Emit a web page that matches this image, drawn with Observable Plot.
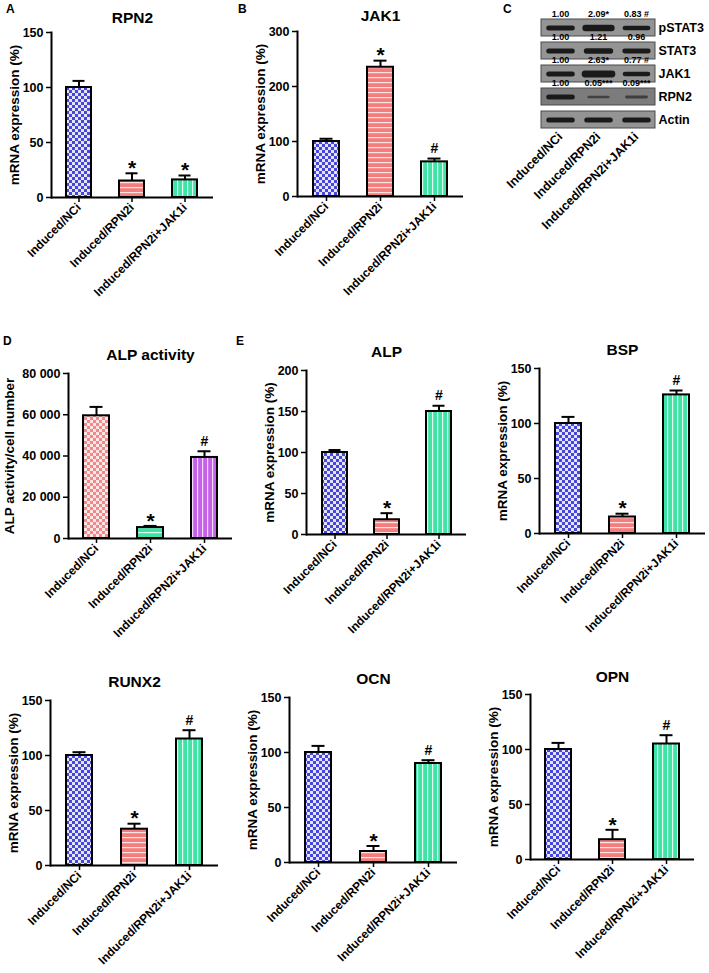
<!DOCTYPE html>
<html>
<head>
<meta charset="utf-8">
<script src="https://cdn.jsdelivr.net/npm/d3@7"></script>
<script src="https://cdn.jsdelivr.net/npm/@observablehq/plot@0.6"></script>
<style>
  html, body { margin: 0; padding: 0; background: #fff; }
  #root { position: relative; width: 709px; height: 973px; overflow: hidden; font-family: "Liberation Sans", Arial, sans-serif; }
  .panel { position: absolute; }
  .panel svg { overflow: visible; }
  .letter { position: absolute; font: bold 12px "Liberation Sans", Arial, sans-serif; color: #000; }
</style>
</head>
<body>
<div id="root">
<svg width="0" height="0" style="position:absolute">
  <defs>
    <pattern id="checkBlue" width="6" height="6" patternUnits="userSpaceOnUse">
      <rect width="6" height="6" fill="#4646dc"/>
      <rect width="3" height="3" fill="#e4e4fb"/>
      <rect x="3" y="3" width="3" height="3" fill="#e4e4fb"/>
    </pattern>
    <pattern id="checkPink" width="6" height="6" patternUnits="userSpaceOnUse">
      <rect width="6" height="6" fill="#f08a8a"/>
      <rect width="3" height="3" fill="#fde6e6"/>
      <rect x="3" y="3" width="3" height="3" fill="#fde6e6"/>
    </pattern>
    <pattern id="hRed" width="6" height="5" patternUnits="userSpaceOnUse">
      <rect width="6" height="5" fill="#f27f7e"/>
      <rect y="2" width="6" height="1.2" fill="#ffe2e2"/>
    </pattern>
    <pattern id="vGreen" width="5" height="6" patternUnits="userSpaceOnUse">
      <rect width="5" height="6" fill="#3fe3a6"/>
      <rect x="2" width="1.2" height="6" fill="#dffbef"/>
    </pattern>
    <pattern id="hGreen" width="6" height="5" patternUnits="userSpaceOnUse">
      <rect width="6" height="5" fill="#3fe3a6"/>
      <rect y="2" width="6" height="1.2" fill="#dffbef"/>
    </pattern>
    <pattern id="vPurple" width="5" height="6" patternUnits="userSpaceOnUse">
      <rect width="5" height="6" fill="#c461e6"/>
      <rect x="2" width="1.2" height="6" fill="#f3dcfb"/>
    </pattern>
  </defs>
</svg>
</div>
<script>
// ---------- data ----------
const categories = ["Induced/NCi", "Induced/RPN2i", "Induced/RPN2i+JAK1i"];

const rpn2Mean = [100, 15, 16];
const rpn2Upper = [106, 22, 20];
const rpn2Mark = ["", "*", "*"];

const jak1Mean = [100, 235, 63];
const jak1Upper = [105, 247, 69];
const jak1Mark = ["", "*", "#"];

const alpActivityMean = [59500, 5300, 39300];
const alpActivityUpper = [63800, 6100, 42300];
const alpActivityMark = ["", "*", "#"];

const alpMean = [100, 18, 150];
const alpUpper = [103, 26, 157];
const alpMark = ["", "*", "#"];

const bspMean = [100, 15, 126];
const bspUpper = [106, 18, 130];
const bspMark = ["", "*", "#"];

const runx2Mean = [100, 33, 115];
const runx2Upper = [103, 38, 123];
const runx2Mark = ["", "*", "#"];

const ocnMean = [100, 10, 90];
const ocnUpper = [106, 15, 93];
const ocnMark = ["", "*", "#"];

const opnMean = [100, 18, 105];
const opnUpper = [106, 27, 113];
const opnMark = ["", "*", "#"];

const ticks150 = [0, 50, 100, 150];
const ticks300 = [0, 100, 200, 300];
const ticks200 = [0, 50, 100, 150, 200];
const ticksActivity = [0, 20000, 40000, 60000, 80000];

// western blot (panel C)
const blotProteins = ["pSTAT3", "STAT3", "JAK1", "RPN2", "Actin"];
const pstat3Ratio = [1.00, 2.09, 0.83];
const pstat3Text = ["1.00", "2.09*", "0.83 #"];
const stat3Ratio = [1.00, 1.21, 0.96];
const stat3Text = ["1.00", "1.21", "0.96"];
const jak1Ratio = [1.00, 2.63, 0.77];
const jak1Text = ["1.00", "2.63*", "0.77 #"];
const rpn2Ratio = [1.00, 0.05, 0.09];
const rpn2Text = ["1.00", "0.05***", "0.09***"];
const actinRatio = [1.00, 1.00, 1.00];
const actinText = ["", "", ""];

// ---------- helpers ----------
const FONT = '"Liberation Sans", Arial, sans-serif';
const root = document.getElementById("root");

function addLetter(txt, x, y) {
  const d = document.createElement("div");
  d.className = "letter";
  d.textContent = txt;
  d.style.left = x + "px";
  d.style.top = y + "px";
  root.appendChild(d);
}

function barPanel(cfg) {
  const data = categories.map((c, i) => ({cat: c, mean: cfg.mean[i], upper: cfg.upper[i], mark: cfg.mark[i], i}));
  const [fx0, fx1, fy0, fy1] = cfg.frame;
  const W = cfg.width, H = cfg.height;
  const marginLeft = fx0 - cfg.left;
  const marginRight = cfg.left + W - fx1;
  const marginTop = fy0 - cfg.top;
  const marginBottom = cfg.top + H - fy1;
  const yMax = cfg.ticks[cfg.ticks.length - 1];
  const chart = Plot.plot({
    width: W, height: H,
    marginLeft, marginRight, marginTop, marginBottom,
    style: {fontFamily: FONT, fontSize: "12px", fontWeight: "bold", color: "#000", background: "transparent", overflow: "visible"},
    x: {type: "band", domain: categories, paddingInner: 0.52, paddingOuter: 0.27, label: null},
    y: {domain: [0, yMax], label: null},
    marks: [
      Plot.ruleX(data, {x: "cat", y1: "mean", y2: "upper", stroke: "#000", strokeWidth: 2}),
      Plot.tickY(data, {x: "cat", y: "upper", stroke: "#000", strokeWidth: 2, insetLeft: 6.5, insetRight: 6.5}),
      Plot.barY(data, {x: "cat", y: "mean", fill: d => `url(#${cfg.fills[d.i]})`, stroke: "#000", strokeWidth: 2}),
      Plot.text(data.filter(d => d.mark === "*"), {x: "cat", y: "upper", text: "mark", dy: -5, fontSize: 21, fontWeight: "bold", fill: "#000"}),
      Plot.text(data.filter(d => d.mark === "#"), {x: "cat", y: "upper", text: "mark", dy: -10, fontSize: 14, fontWeight: "bold", fill: "#000"}),
      Plot.frame({anchor: "left", stroke: "#000", strokeWidth: 2}),
      Plot.ruleY([0], {stroke: "#000", strokeWidth: 2}),
      Plot.axisY({ticks: cfg.ticks, tickFormat: cfg.tickFormat || (d => d), tickSize: 5, tickPadding: 3, strokeWidth: 1.5, fontSize: 12.5, fontWeight: "bold", label: null}),
      Plot.axisX({tickRotate: -45, tickSize: 5, tickPadding: 3, strokeWidth: 1.5, fontSize: 12, fontWeight: "bold", label: null}),
      Plot.text([cfg.ylabel], {frameAnchor: "left", textAnchor: "middle", rotate: -90, dx: -cfg.ylabelOffset, fontSize: 13.5, fontWeight: "bold", fill: "#000"}),
      Plot.text([cfg.title], {frameAnchor: "top", textAnchor: "middle", dy: -(marginTop - cfg.titleDy), fontSize: 15.5, fontWeight: "bold", fill: "#000"})
    ]
  });
  const wrap = document.createElement("div");
  wrap.className = "panel";
  wrap.style.left = cfg.left + "px";
  wrap.style.top = cfg.top + "px";
  wrap.appendChild(chart);
  root.appendChild(wrap);
}

const mrna = "mRNA expression (%)";
const fills3 = ["checkBlue", "hRed", "vGreen"];

barPanel({title: "RPN2", mean: rpn2Mean, upper: rpn2Upper, mark: rpn2Mark, ticks: ticks150,
  left: 0, top: 0, width: 230, height: 300, frame: [51, 213, 32, 197], titleDy: 11,
  ylabel: mrna, ylabelOffset: 37, fills: fills3});

barPanel({title: "JAK1", mean: jak1Mean, upper: jak1Upper, mark: jak1Mark, ticks: ticks300,
  left: 235, top: 0, width: 235, height: 300, frame: [297, 463, 31, 196], titleDy: 9,
  ylabel: mrna, ylabelOffset: 37, fills: fills3});

barPanel({title: "ALP activity", mean: alpActivityMean, upper: alpActivityUpper, mark: alpActivityMark, ticks: ticksActivity,
  left: 0, top: 330, width: 240, height: 320, frame: [68, 232, 373, 538], titleDy: 18,
  tickFormat: d => d3.format(",")(d).replace(/,/g, " "),
  ylabel: "ALP activity/cell number", ylabelOffset: 59, fills: ["checkPink", "hGreen", "vPurple"]});

barPanel({title: "ALP", mean: alpMean, upper: alpUpper, mark: alpMark, ticks: ticks200,
  left: 240, top: 330, width: 232, height: 320, frame: [306, 466, 370, 534], titleDy: 15,
  ylabel: mrna, ylabelOffset: 37, fills: fills3});

barPanel({title: "BSP", mean: bspMean, upper: bspUpper, mark: bspMark, ticks: ticks150,
  left: 475, top: 330, width: 234, height: 320, frame: [539, 705, 368, 533], titleDy: 13,
  ylabel: mrna, ylabelOffset: 37, fills: fills3});

barPanel({title: "RUNX2", mean: runx2Mean, upper: runx2Upper, mark: runx2Mark, ticks: ticks150,
  left: 0, top: 650, width: 230, height: 323, frame: [50, 218, 700, 865], titleDy: 25,
  ylabel: mrna, ylabelOffset: 37, fills: fills3});

barPanel({title: "OCN", mean: ocnMean, upper: ocnUpper, mark: ocnMark, ticks: ticks150,
  left: 235, top: 650, width: 235, height: 323, frame: [289, 457, 697, 862], titleDy: 22,
  ylabel: mrna, ylabelOffset: 37, fills: fills3});

barPanel({title: "OPN", mean: opnMean, upper: opnUpper, mark: opnMark, ticks: ticks150,
  left: 475, top: 650, width: 234, height: 323, frame: [530, 694, 694, 859], titleDy: 20,
  ylabel: mrna, ylabelOffset: 37, fills: fills3});

// ---------- panel C: western blot ----------
(function () {
  const ratios = [pstat3Ratio, stat3Ratio, jak1Ratio, rpn2Ratio, actinRatio];
  const texts = [pstat3Text, stat3Text, jak1Text, rpn2Text, actinText];
  const bands = [];
  blotProteins.forEach((p, r) => categories.forEach((c, lane) => {
    bands.push({protein: p, lane, ratio: ratios[r][lane], label: texts[r][lane]});
  }));
  const left = 480, top = 0, W = 229, H = 300;
  const fx0 = 541, fx1 = 655, fy0 = 19, fy1 = 129;
  const chart = Plot.plot({
    width: W, height: H,
    marginLeft: fx0 - left, marginRight: left + W - fx1, marginTop: fy0 - top, marginBottom: top + H - fy1,
    style: {fontFamily: FONT, fontSize: "12px", fontWeight: "bold", color: "#000", background: "transparent", overflow: "visible"},
    x: {domain: [-0.5, 2.5], label: null},
    y: {type: "band", domain: blotProteins, paddingInner: 0.25, paddingOuter: 0, label: null, axis: null},
    marks: [
      Plot.barX(blotProteins, {y: d => d, x1: () => -0.5, x2: () => 2.5,
        fill: d => d === "RPN2" ? "#7c7c7c" : "#949494", stroke: "#4a4a4a", strokeWidth: 1}),
      Plot.link(bands, {x1: d => d.lane - 0.24 - 0.07 * Math.sqrt(d.ratio), x2: d => d.lane + 0.24 + 0.07 * Math.sqrt(d.ratio),
        y1: "protein", y2: "protein", stroke: "#1a1a1a",
        strokeOpacity: d => 0.55 + 0.45 * Math.min(1, d.ratio * 2),
        strokeWidth: d => 2 + 3 * Math.sqrt(d.ratio), strokeLinecap: "round"}),
      Plot.text(bands, {x: "lane", y: "protein", text: "label", dy: -13.5, fontSize: 9, fontWeight: "bold", fill: "#000"}),
      Plot.text(blotProteins, {x: () => 2.5, y: d => d, text: d => d, textAnchor: "start", dx: 3, fontSize: 12.5, fontWeight: "bold", fill: "#000"}),
      Plot.axisX({ticks: [0, 1, 2], tickFormat: i => categories[i], tickRotate: -45, tickSize: 0, tickPadding: 5, fontSize: 12.5, fontWeight: "bold", label: null})
    ]
  });
  const wrap = document.createElement("div");
  wrap.className = "panel";
  wrap.style.left = left + "px";
  wrap.style.top = top + "px";
  wrap.appendChild(chart);
  root.appendChild(wrap);
})();

addLetter("A", 6, 2);
addLetter("B", 238, 2);
addLetter("C", 503, 2);
addLetter("D", 3, 334);
addLetter("E", 236, 334);
</script>
</body>
</html>
